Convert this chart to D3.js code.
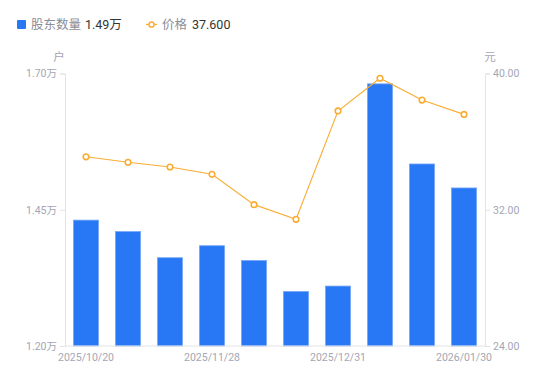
<!DOCTYPE html>
<html><head><meta charset="utf-8">
<script src="https://cdn.jsdelivr.net/npm/d3@7/dist/d3.min.js"></script>
<style>body{margin:0;background:#fff;}svg{display:block;font-family:"Noto Sans","Noto Sans CJK SC",sans-serif;}</style>
</head><body><svg id="c" width="550" height="381"></svg>
<script>
const categories = ["2025/10/20","2025/10/31","2025/11/10","2025/11/28","2025/12/10","2025/12/19","2025/12/31","2026/01/09","2026/01/20","2026/01/30"];
const holders = [1.431,1.410,1.362,1.384,1.357,1.300,1.310,1.681,1.534,1.490];
const prices = [35.11,34.79,34.51,34.08,32.30,31.44,37.80,39.72,38.44,37.60];
const leftTicks = [1.20,1.45,1.70];
const rightTicks = [24,32,40];
const xTickLabels = ["2025/10/20","2025/11/28","2025/12/31","2026/01/30"];

const svg = d3.select("#c");
const L = 65, R = 485, T = 73.5, B = 346;
const x = d3.scaleBand().domain(categories).range([L,R]).paddingInner(0.4).paddingOuter(0.2);
const yL = d3.scaleLinear().domain([1.20,1.70]).range([B,T]);
const yR = d3.scaleLinear().domain([24,40]).range([B,T]);
const axisColor = "#e3e4e8", tickText = "#a3a6b4";

// bars
svg.append("g").selectAll("rect").data(holders).join("rect")
  .attr("x",(d,i)=>x(categories[i])).attr("width",x.bandwidth())
  .attr("y",d=>yL(d)).attr("height",d=>B-yL(d))
  .attr("fill","#2878f5").attr("stroke","#7aa9f7").attr("stroke-width",0.8);

// axes
const gL = svg.append("g").attr("transform",`translate(${L},0)`)
  .call(d3.axisLeft(yL).tickValues(leftTicks).tickSize(5).tickPadding(3).tickFormat(d=>d3.format(".2f")(d)+"万"));
const gR = svg.append("g").attr("transform",`translate(${R},0)`)
  .call(d3.axisRight(yR).tickValues(rightTicks).tickSize(5).tickPadding(3).tickFormat(d3.format(".2f")));
const gB = svg.append("g").attr("transform",`translate(0,${B})`)
  .call(d3.axisBottom(x).tickValues(xTickLabels).tickSize(0).tickPadding(8));
[gL,gR,gB].forEach(g=>{
  g.select(".domain").attr("stroke",axisColor);
  g.selectAll(".tick line").attr("stroke",axisColor);
  g.selectAll(".tick text").attr("fill",tickText).attr("font-size",10.5).attr("font-family","Roboto, 'Noto Sans', 'Noto Sans CJK SC', sans-serif");
});
gB.select(".domain").attr("d",`M${L},0H${R}`);

// line
const line = d3.line().x((d,i)=>x(categories[i])+x.bandwidth()/2).y(d=>yR(d));
svg.append("path").datum(prices).attr("d",line).attr("fill","none").attr("stroke","#f9ad34").attr("stroke-width",1.1);
svg.append("g").selectAll("circle").data(prices).join("circle")
  .attr("cx",(d,i)=>x(categories[i])+x.bandwidth()/2).attr("cy",d=>yR(d)).attr("r",2.8)
  .attr("fill","#fff").attr("stroke","#f9ad34").attr("stroke-width",1.6);

// unit labels
svg.append("text").attr("x",59).attr("y",61).attr("text-anchor","middle").attr("font-size",11.5).attr("fill",tickText).text("户");
svg.append("text").attr("x",490).attr("y",61).attr("text-anchor","middle").attr("font-size",11.5).attr("fill",tickText).text("元");

// legend
const lg = svg.append("g");
lg.append("rect").attr("x",17).attr("y",20).attr("width",9).attr("height",9).attr("rx",1).attr("fill","#2878f5");
lg.append("text").attr("x",31).attr("y",29).attr("font-size",12.5).attr("fill","#8a8d99").text("股东数量");
lg.append("text").attr("x",85).attr("y",29).attr("font-size",12.5).attr("fill","#333").attr("font-family","Roboto, 'Noto Sans CJK SC', sans-serif").text("1.49万");
lg.append("line").attr("x1",146).attr("x2",157).attr("y1",24.5).attr("y2",24.5).attr("stroke","#f9ad34").attr("stroke-width",1.2);
lg.append("circle").attr("cx",151.5).attr("cy",24.5).attr("r",2.6).attr("fill","#fff").attr("stroke","#f9ad34").attr("stroke-width",1.5);
lg.append("text").attr("x",162).attr("y",29).attr("font-size",12.5).attr("fill","#8a8d99").text("价格");
lg.append("text").attr("x",192).attr("y",29).attr("font-size",12.5).attr("fill","#333").attr("font-family","Roboto, 'Noto Sans CJK SC', sans-serif").text("37.600");
</script></body></html>
